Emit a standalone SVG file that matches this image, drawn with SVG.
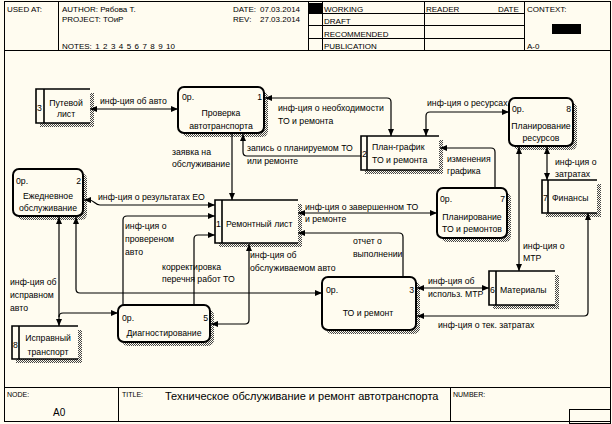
<svg xmlns="http://www.w3.org/2000/svg" width="612" height="424" viewBox="0 0 612 424">
<style>
.bg{fill:#fffcf0}
.ln{fill:none;stroke:#000;stroke-width:1}
.hdr{font-family:"Liberation Sans",Arial,sans-serif;font-size:8px;fill:#000}
.sm{font-family:"Liberation Sans",Arial,sans-serif;font-size:7px;fill:#000}
.lbl{font-family:"Liberation Sans",Arial,sans-serif;font-size:8.7px;fill:#000}
.mid{text-anchor:middle}
.end{text-anchor:end}
.proc{fill:#fffcf0;stroke:#000;stroke-width:2}
.ext{fill:#fffcf0;stroke:none}
.extl{fill:none;stroke:#000;stroke-width:1.6}
.shadow{fill:url(#hatch)}
#connectors path{fill:none;stroke:#000;stroke-width:1.2}
.both{marker-start:url(#ah);marker-end:url(#ah)}
.one{marker-end:url(#ah)}
</style>
<defs>
<pattern id="hatch" width="2" height="2" patternUnits="userSpaceOnUse"><rect width="2" height="2" fill="#fffcf0"/><rect width="1" height="1" fill="#444"/><rect x="1" y="1" width="1" height="1" fill="#444"/></pattern>
<marker id="ah" viewBox="0 0 7 6" refX="7" refY="3" markerWidth="7" markerHeight="6" markerUnits="userSpaceOnUse" orient="auto-start-reverse"><path d="M0,0 L7,3 L0,6 z" fill="#000"/></marker>
</defs>
<rect class="bg" width="612" height="424"/>
<g id="frame">
<rect class="ln" x="4.5" y="1.5" width="606" height="420"/>
<path class="ln" d="M4.5,50.5 H610.5 M58.5,1.5 V50.5 M308.5,1.5 V50.5 M322.5,1.5 V50.5 M308.5,13.5 H524.5 M308.5,25.5 H524.5 M308.5,38.5 H524.5 M424.5,1.5 V50.5 M524.5,1.5 V50.5"/>
<rect x="309" y="3" width="13" height="10" fill="#000"/>
<rect x="552" y="24" width="29" height="10" fill="#000"/>
<text class="hdr" x="7" y="12">USED AT:</text>
<text class="hdr" x="62" y="12">AUTHOR: Рябова Т.</text>
<text class="hdr" x="62" y="22">PROJECT: ТОиР</text>
<text class="hdr" x="62" y="49" style="word-spacing:1.2px">NOTES: 1 2 3 4 5 6 7 8 9 10</text>
<text class="hdr" x="233" y="12">DATE:</text>
<text class="hdr" x="260" y="12">07.03.2014</text>
<text class="hdr" x="233" y="22">REV:</text>
<text class="hdr" x="260" y="22">27.03.2014</text>
<text class="hdr" x="324" y="12">WORKING</text>
<text class="hdr" x="324" y="24">DRAFT</text>
<text class="hdr" x="324" y="37">RECOMMENDED</text>
<text class="hdr" x="324" y="49">PUBLICATION</text>
<text class="hdr" x="426" y="12">READER</text>
<text class="hdr" x="498" y="12">DATE</text>
<text class="hdr" x="527" y="12">CONTEXT:</text>
<text class="hdr" x="527" y="49">A-0</text>
<path class="ln" d="M4.5,387.5 H610.5 M118.5,387.5 V421.5 M450.5,387.5 V421.5"/>
<rect class="ln" x="569.5" y="409.5" width="41" height="14"/>
<text class="sm" x="7" y="397">NODE:</text>
<text class="hdr" x="53" y="416" style="font-size:10px">A0</text>
<text class="sm" x="122" y="397">TITLE:</text>
<text class="hdr" x="165" y="400" style="font-size:11px">Техническое обслуживание и ремонт автотранспорта</text>
<text class="sm" x="453" y="397">NUMBER:</text>
</g>
<g id="n-putevoy">
<rect class="shadow" x="40" y="93" width="54" height="34"/>
<rect class="ext" x="36" y="89" width="54" height="34"/>
<path class="extl" d="M90,89 H36 V123 H90 M44,89 V123"/>
<text class="lbl" x="37" y="111">3</text>
<text class="lbl mid" x="66" y="106">Путевой</text>
<text class="lbl mid" x="66" y="117">лист</text>
</g>
<g id="n-proverka">
<rect class="shadow" x="182" y="91" width="86" height="46" rx="6"/>
<rect class="proc" x="178" y="87" width="86" height="46" rx="6"/>
<text class="lbl" x="182" y="100">0р.</text>
<text class="lbl end" x="262" y="100">1</text>
<text class="lbl mid" x="221" y="116">Проверка</text>
<text class="lbl mid" x="221" y="129">автотранспорта</text>
</g>
<g id="n-ezhednevnoe">
<rect class="shadow" x="17" y="173" width="70" height="47" rx="6"/>
<rect class="proc" x="13" y="169" width="70" height="47" rx="6"/>
<text class="lbl" x="16" y="184">0р.</text>
<text class="lbl end" x="81" y="184">2</text>
<text class="lbl mid" x="48" y="199">Ежедневное</text>
<text class="lbl mid" x="48" y="211">обслуживание</text>
</g>
<g id="n-remlist">
<rect class="shadow" x="219" y="204" width="83" height="43"/>
<rect class="ext" x="215" y="200" width="83" height="43"/>
<path class="extl" d="M298,200 H215 V243 H298 M222,200 V243"/>
<text class="lbl" x="216" y="227">1</text>
<text class="lbl" x="226" y="227">Ремонтный лист</text>
</g>
<g id="n-plangrafik">
<rect class="shadow" x="365" y="140" width="78" height="34"/>
<rect class="ext" x="361" y="136" width="78" height="34"/>
<path class="extl" d="M439,136 H361 V170 H439 M367,136 V170"/>
<text class="lbl" x="362" y="157">2</text>
<text class="lbl" x="372" y="150">План-график</text>
<text class="lbl" x="372" y="163">ТО и ремонта</text>
</g>
<g id="n-planres">
<rect class="shadow" x="513" y="102" width="64" height="48" rx="6"/>
<rect class="proc" x="509" y="98" width="64" height="48" rx="6"/>
<text class="lbl" x="512" y="112">0р.</text>
<text class="lbl end" x="571" y="112">8</text>
<text class="lbl mid" x="541" y="129">Планирование</text>
<text class="lbl mid" x="541" y="141">ресурсов</text>
</g>
<g id="n-finansy">
<rect class="shadow" x="546" y="184" width="55" height="33"/>
<rect class="ext" x="542" y="180" width="55" height="33"/>
<path class="extl" d="M597,180 H542 V213 H597 M548,180 V213"/>
<text class="lbl" x="543" y="201">7</text>
<text class="lbl" x="552" y="201">Финансы</text>
</g>
<g id="n-planto">
<rect class="shadow" x="441" y="192" width="70" height="50" rx="6"/>
<rect class="proc" x="437" y="188" width="70" height="50" rx="6"/>
<text class="lbl" x="440" y="202">0р.</text>
<text class="lbl end" x="505" y="202">7</text>
<text class="lbl mid" x="472" y="220">Планирование</text>
<text class="lbl mid" x="472" y="232">ТО и ремонтов</text>
</g>
<g id="n-materialy">
<rect class="shadow" x="493" y="275" width="66" height="34"/>
<rect class="ext" x="489" y="271" width="66" height="34"/>
<path class="extl" d="M555,271 H489 V305 H555 M496,271 V305"/>
<text class="lbl" x="490" y="293">6</text>
<text class="lbl" x="500" y="293">Материалы</text>
</g>
<g id="n-toremont">
<rect class="shadow" x="326" y="281" width="94" height="53" rx="6"/>
<rect class="proc" x="322" y="277" width="94" height="53" rx="6"/>
<text class="lbl" x="326" y="293">0р.</text>
<text class="lbl end" x="414" y="293">3</text>
<text class="lbl mid" x="368" y="316">ТО и ремонт</text>
</g>
<g id="n-diagn">
<rect class="shadow" x="122" y="309" width="92" height="37" rx="6"/>
<rect class="proc" x="118" y="305" width="92" height="37" rx="6"/>
<text class="lbl" x="122" y="321">0р.</text>
<text class="lbl end" x="208" y="321">5</text>
<text class="lbl mid" x="164" y="336">Диагностирование</text>
</g>
<g id="n-ispravny">
<rect class="shadow" x="16" y="330" width="66" height="33"/>
<rect class="ext" x="12" y="326" width="66" height="33"/>
<path class="extl" d="M78,326 H12 V359 H78 M19,326 V359"/>
<text class="lbl" x="13" y="348">8</text>
<text class="lbl mid" x="48" y="341">Исправный</text>
<text class="lbl mid" x="48" y="355">транспорт</text>
</g>
<g id="connectors">
<path class="both" d="M90,109 H178"/>
<path class="both" d="M265,98 H387 Q391,98 391,102 V136"/>
<path class="one" d="M232,134 V200"/>
<path class="one" d="M361,156 H247 Q243,156 243,152 V134"/>
<path class="both" d="M426,136 V116 Q426,112 430,112 H509"/>
<path class="one" d="M495,188 V152 Q495,148 491,148 H440"/>
<path class="both" d="M298,213 H437"/>
<path class="both" d="M215,205 H100 C95,205 94,200 89,200 H84"/>
<path class="one" d="M123,305 V220 Q123,216 127,216 H215"/>
<path class="one" d="M194,305 V239 Q194,235 198,235 H215"/>
<path class="both" d="M249,244 V320 Q249,324 245,324 H211"/>
<path class="both" d="M76,217 V289 Q76,293 80,293 H322"/>
<path class="both" d="M59,217 V326"/>
<path class="one" d="M59,317 Q59,313 63,313 H118"/>
<path class="one" d="M403,277 V237 Q403,233 399,233 H298"/>
<path class="both" d="M417,288 H489"/>
<path class="both" d="M519,147 V271"/>
<path class="both" d="M547,147 V180"/>
<path class="both" d="M588,213 V312 Q588,316 584,316 H417"/>
</g>
<g id="labels">
<text class="lbl" x="100" y="104">инф-ция об авто</text>
<text class="lbl" x="278" y="111">инф-ция о необходимости</text>
<text class="lbl" x="278" y="124">ТО и ремонта</text>
<text class="lbl" x="172" y="155">заявка на</text>
<text class="lbl" x="172" y="167">обслуживание</text>
<text class="lbl" x="247" y="151">запись о планируемом ТО</text>
<text class="lbl" x="247" y="164">или ремонте</text>
<text class="lbl" x="427" y="106">инф-ция о ресурсах</text>
<text class="lbl" x="447" y="162">изменения</text>
<text class="lbl" x="447" y="174">графика</text>
<text class="lbl" x="305" y="210">инф-ция о завершенном ТО</text>
<text class="lbl" x="305" y="222">и ремонте</text>
<text class="lbl" x="98" y="200">инф-ция о результатах ЕО</text>
<text class="lbl" x="125" y="229">инф-ция о</text>
<text class="lbl" x="125" y="242">провереном</text>
<text class="lbl" x="125" y="255">авто</text>
<text class="lbl" x="162" y="270">корректировка</text>
<text class="lbl" x="162" y="282">перечня работ ТО</text>
<text class="lbl" x="250" y="258">инф-ция об</text>
<text class="lbl" x="250" y="271">обслуживаемом авто</text>
<text class="lbl" x="10" y="285">инф-ция об</text>
<text class="lbl" x="10" y="298">исправном</text>
<text class="lbl" x="10" y="311">авто</text>
<text class="lbl" x="353" y="244">отчет о</text>
<text class="lbl" x="353" y="257">выполнении</text>
<text class="lbl" x="428" y="284">инф-ция об</text>
<text class="lbl" x="428" y="297">использ. МТР</text>
<text class="lbl" x="523" y="249">инф-ция о</text>
<text class="lbl" x="523" y="261">МТР</text>
<text class="lbl" x="555" y="165">инф-ция о</text>
<text class="lbl" x="555" y="177">затратах</text>
<text class="lbl" x="438" y="328">инф-ция о тек. затратах</text>
</g>
</svg>
